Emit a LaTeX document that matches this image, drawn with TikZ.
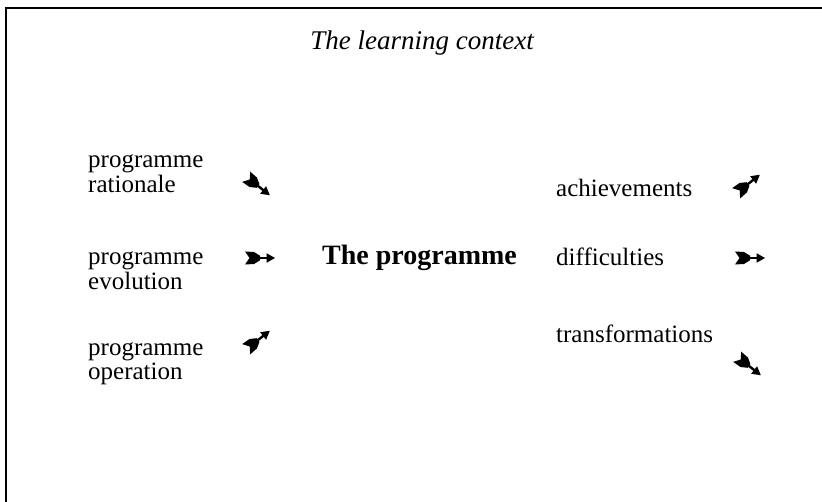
\documentclass[tikz,border=0pt]{standalone}
\usepackage{fontspec}
\setmainfont{Liberation Serif}
\begin{document}
\begin{tikzpicture}[x=1pt,y=-1pt,
  frameline/.style={line width=2.8pt},
  twoline/.style={align=left, anchor=north west, inner sep=0pt, font=\fontsize{25}{22}\selectfont},
  oneline/.style={anchor=base west, inner sep=0pt, font=\fontsize{25}{22}\selectfont},
  titletext/.style={anchor=base, inner sep=0pt, font=\fontsize{27}{27}\selectfont\itshape},
  centretext/.style={anchor=base west, inner sep=0pt, font=\fontsize{28}{28}\selectfont\bfseries},
  feather/.pic={
    % notched black fletching, short shaft, small solid head
    \fill (-15,-6.5) -- (-6,-6) -- (0,-2.3) -- (0,2.3) -- (-6,6) -- (-15,6.5) -- (-10.5,0) -- cycle;
    \fill (-1,-1.2) rectangle (8,1.2);
    \fill (6.5,-4.8) -- (15,0) -- (6.5,4.8) -- cycle;
  }]
\useasboundingbox (0,0) rectangle (822,502);

% frame: rule along the top and down the left side
\draw[frameline] (6,503) -- (6,8) -- (823,8);

\node[titletext] (title) at (422,50) {The learning context};

% left-hand column
\node[twoline] (rationale) at (88,151.6) {\strut programme\\\strut rationale};
\node[twoline] (evolution) at (88,248.6) {\strut programme\\\strut evolution};
\node[twoline] (operation) at (88,339.6) {\strut programme\\\strut operation};

\pic[rotate=-38] (arat) at (258,186) {feather};
\pic (aevo) at (260,258) {feather};
\pic[rotate=38] (aope) at (258,340) {feather};

% centre
\node[centretext] (prog) at (322,265) {The programme};

% right-hand column
\node[oneline] (achievements) at (556,197) {achievements};
\node[oneline] (difficulties) at (556,266) {difficulties};
\node[oneline] (transformations) at (556,343) {transformations};

\pic[rotate=38] (aach) at (748,184) {feather};
\pic (adif) at (750,258) {feather};
\pic[rotate=-38] (atra) at (749,366) {feather};
\end{tikzpicture}
\end{document}
